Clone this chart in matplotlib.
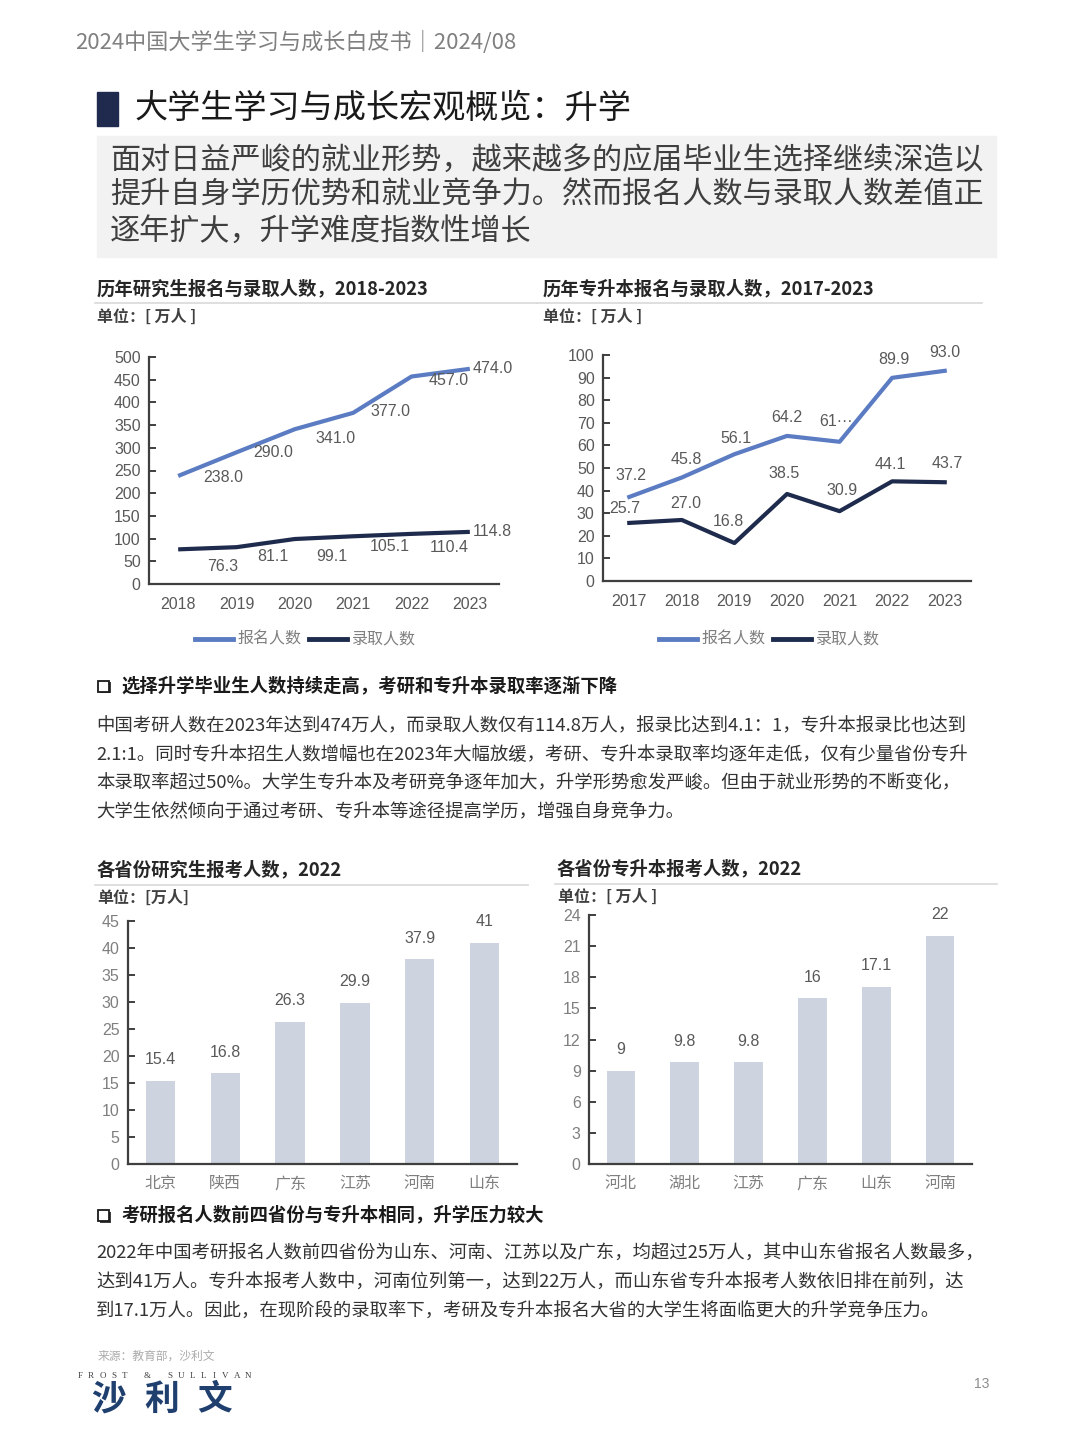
import matplotlib
matplotlib.use("Agg")
import matplotlib.pyplot as plt
from matplotlib.patches import Rectangle
from matplotlib.lines import Line2D

plt.rcParams["font.family"] = ["Noto Sans CJK SC", "DejaVu Sans"]

W, H = 1080, 1439
NUM = ["Liberation Sans", "Noto Sans CJK SC"]
CJK = ["Noto Sans CJK SC", "DejaVu Sans"]

# ---- data ----
grad_years = ["2018", "2019", "2020", "2021", "2022", "2023"]
grad_apply = [238.0, 290.0, 341.0, 377.0, 457.0, 474.0]
grad_admit = [76.3, 81.1, 99.1, 105.1, 110.4, 114.8]

up_years = ["2017", "2018", "2019", "2020", "2021", "2022", "2023"]
up_apply = [37.2, 45.8, 56.1, 64.2, 61.6, 89.9, 93.0]
up_admit = [25.7, 27.0, 16.8, 38.5, 30.9, 44.1, 43.7]
up_apply_text = ["37.2", "45.8", "56.1", "64.2", "61\u00b7\u00b7\u00b7", "89.9", "93.0"]

grad_prov = ["北京", "陕西", "广东", "江苏", "河南", "山东"]
grad_prov_val = [15.4, 16.8, 26.3, 29.9, 37.9, 41]

up_prov = ["河北", "湖北", "江苏", "广东", "山东", "河南"]
up_prov_val = [9, 9.8, 9.8, 16, 17.1, 22]

LIGHT = "#5B7CC2"
DARK = "#1E2B4C"
BAR = "#CDD4DF"
AXC = "#3F3F3F"
TXT = "#595959"

fig = plt.figure(figsize=(W / 100, H / 100), dpi=100)
fig.patch.set_facecolor("white")


def fx(x):
    return x / W


def fy(y):
    return 1 - y / H


def put(x, y, s, size, color="#333333", weight="normal", ha="left", va="center", family=CJK):
    fig.text(fx(x), fy(y), s, fontsize=size, color=color, weight=weight,
             ha=ha, va=va, family=family)


def hline(x0, x1, y, color="#D9D9D9", lw=1.2):
    fig.add_artist(Line2D([fx(x0), fx(x1)], [fy(y), fy(y)], color=color, lw=lw))


def axes_px(left, top, right, bottom):
    return fig.add_axes([fx(left), fy(bottom), (right - left) / W, (bottom - top) / H])


def style_axes(ax, yticks):
    for s in ["top", "right"]:
        ax.spines[s].set_visible(False)
    for s in ["left", "bottom"]:
        ax.spines[s].set_color(AXC)
        ax.spines[s].set_linewidth(1.6)
    ax.set_yticks(yticks)
    ax.tick_params(axis="y", direction="in", length=5, width=1.4, color=AXC,
                   labelsize=11.5, labelcolor=TXT, pad=6)
    ax.tick_params(axis="x", length=0, labelsize=11.5, labelcolor=TXT, pad=9)
    ax.set_facecolor("none")
    for lab in ax.get_yticklabels():
        lab.set_family(NUM)


# ---- header ----
put(75, 42, "2024中国大学生学习与成长白皮书｜2024/08", 15.9, color="#808080", weight="medium")
fig.add_artist(Rectangle((fx(97), fy(126)), 21 / W, 34 / H, color="#1F2A4E",
                         transform=fig.transFigure))
put(135, 108, "大学生学习与成长宏观概览：升学", 23.9, color="#1A1A1A", weight="medium")
fig.add_artist(Rectangle((fx(97), fy(257)), 899 / W, 121 / H, color="#F2F2F2",
                         transform=fig.transFigure, zorder=0))
lead = ["面对日益严峻的就业形势，越来越多的应届毕业生选择继续深造以",
        "提升自身学历优势和就业竞争力。然而报名人数与录取人数差值正",
        "逐年扩大，升学难度指数性增长"]
for i, s in enumerate(lead):
    put(110, 160 + i * 35.5, s, 21.7, color="#3F3F3F", weight="medium")

# ---- chart titles ----
put(97, 289, "历年研究生报名与录取人数，2018-2023", 13.2, color="#262626", weight="bold")
hline(95, 537, 303)
put(97, 317, "单位：[ 万人 ]", 11.5, color="#404040", weight="bold")
put(543, 289, "历年专升本报名与录取人数，2017-2023", 13.2, color="#262626", weight="bold")
hline(537, 982, 303)
put(543, 317, "单位：[ 万人 ]", 11.5, color="#404040", weight="bold")

# ---- chart 1: graduate exam ----
ax1 = axes_px(149, 357, 499, 584)
x1 = range(len(grad_years))
ax1.plot(x1, grad_apply, color=LIGHT, lw=3.0, solid_capstyle="butt")
ax1.plot(x1, grad_admit, color=DARK, lw=3.0, solid_capstyle="butt")
ax1.set_xlim(-0.5, len(grad_years) - 0.5)
ax1.set_ylim(0, 500)
style_axes(ax1, range(0, 501, 50))
ax1.set_xticks(list(x1))
ax1.set_xticklabels(grad_years, family=NUM)
off_apply1 = [(45, -2), (37, 0), (41, -9), (37, 1), (37, -4), (3, 0)]
off_admit1 = [(45, -17), (36, -9), (37, -17), (37, -10), (38, -14), (3, 0)]
for i in x1:
    ha = "left" if i == len(grad_years) - 1 else "center"
    ax1.annotate(f"{grad_apply[i]:.1f}", (i, grad_apply[i]), xytext=off_apply1[i],
                 textcoords="offset pixels", ha=ha, va="center", fontsize=11.5,
                 color=TXT, family=NUM)
    ax1.annotate(f"{grad_admit[i]:.1f}", (i, grad_admit[i]), xytext=off_admit1[i],
                 textcoords="offset pixels", ha=ha, va="center", fontsize=11.5,
                 color=TXT, family=NUM)

# ---- chart 2: zhuanshengben ----
ax2 = axes_px(603, 355, 971, 581)
x2 = range(len(up_years))
ax2.plot(x2, up_apply, color=LIGHT, lw=3.0)
ax2.plot(x2, up_admit, color=DARK, lw=3.0)
ax2.set_xlim(-0.5, len(up_years) - 0.5)
ax2.set_ylim(0, 100)
style_axes(ax2, range(0, 101, 10))
ax2.set_xticks(list(x2))
ax2.set_xticklabels(up_years, family=NUM)
off_apply2 = [(2, 21), (4, 18), (2, 16), (0, 18), (-4, 20), (2, 18), (0, 18)]
off_admit2 = [(-5, 14), (4, 16), (-6, 22), (-3, 20), (2, 21), (-2, 17), (3, 19)]
for i in x2:
    ax2.annotate(up_apply_text[i], (i, up_apply[i]), xytext=off_apply2[i],
                 textcoords="offset pixels", ha="center", va="center", fontsize=11.5,
                 color=TXT, family=NUM)
    ax2.annotate(f"{up_admit[i]:.1f}", (i, up_admit[i]), xytext=off_admit2[i],
                 textcoords="offset pixels", ha="center", va="center", fontsize=11.5,
                 color=TXT, family=NUM)

# legends for line charts
for x0, in [(195,), (659,)]:
    fig.add_artist(Line2D([fx(x0), fx(x0 + 38)], [fy(639)] * 2, color=LIGHT, lw=3.5))
    put(x0 + 42, 639, "报名人数", 11.5, color="#7F7F7F")
    fig.add_artist(Line2D([fx(x0 + 114), fx(x0 + 152)], [fy(639)] * 2, color=DARK, lw=3.5))
    put(x0 + 157, 639, "录取人数", 11.5, color="#7F7F7F")


def bullet(x, y):
    fig.add_artist(Rectangle((fx(x + 1.5), fy(y + 7.5)), 11 / W, 11 / H, fc="#404040",
                             ec="none", transform=fig.transFigure))
    fig.add_artist(Rectangle((fx(x), fy(y + 6)), 11 / W, 11 / H, fc="white",
                             ec="#1A1A1A", lw=1.3, transform=fig.transFigure))


# ---- paragraph 1 ----
bullet(98, 686)
put(121, 686, "选择升学毕业生人数持续走高，考研和专升本录取率逐渐下降", 13.2,
    color="#1A1A1A", weight="bold")
para1 = ["中国考研人数在2023年达到474万人，而录取人数仅有114.8万人，报录比达到4.1：1，专升本报录比也达到",
         "2.1:1。同时专升本招生人数增幅也在2023年大幅放缓，考研、专升本录取率均逐年走低，仅有少量省份专升",
         "本录取率超过50%。大学生专升本及考研竞争逐年加大，升学形势愈发严峻。但由于就业形势的不断变化，",
         "大学生依然倾向于通过考研、专升本等途径提高学历，增强自身竞争力。"]
for i, s in enumerate(para1):
    put(96, 726 + i * 28.7, s, 13.25, color="#333333")

# ---- bar chart titles ----
put(97, 870, "各省份研究生报考人数，2022", 13.2, color="#262626", weight="bold")
hline(95, 528, 885)
put(97, 898, "单位：[万人]", 11.5, color="#404040", weight="bold")
put(557, 869, "各省份专升本报考人数，2022", 13.2, color="#262626", weight="bold")
hline(555, 997, 884)
put(558, 897, "单位：[ 万人 ]", 11.5, color="#404040", weight="bold")


def bar_chart(ax, cats, vals, ymax, step, fmt):
    xs = range(len(cats))
    ax.bar(xs, vals, width=0.45, color=BAR)
    ax.set_xlim(-0.5, len(cats) - 0.5)
    ax.set_ylim(0, ymax)
    style_axes(ax, range(0, ymax + 1, step))
    ax.tick_params(axis="y", labelcolor="#7F7F7F")
    ax.tick_params(axis="x", labelcolor="#7F7F7F", pad=8)
    ax.set_xticks(list(xs))
    ax.set_xticklabels(cats, family=CJK)
    for i in xs:
        ax.annotate(fmt(vals[i]), (i, vals[i]), xytext=(0, 21), textcoords="offset pixels",
                    ha="center", va="center", fontsize=11.5, color=TXT, family=NUM)


ax3 = axes_px(128, 921, 517, 1164)
bar_chart(ax3, grad_prov, grad_prov_val, 45, 5, lambda v: f"{v:g}")
ax4 = axes_px(589, 915, 972, 1164)
bar_chart(ax4, up_prov, up_prov_val, 24, 3, lambda v: f"{v:g}")

# ---- paragraph 2 ----
bullet(98, 1215)
put(121, 1215, "考研报名人数前四省份与专升本相同，升学压力较大", 13.2,
    color="#1A1A1A", weight="bold")
para2 = ["2022年中国考研报名人数前四省份为山东、河南、江苏以及广东，均超过25万人，其中山东省报名人数最多，",
         "达到41万人。专升本报考人数中，河南位列第一，达到22万人，而山东省专升本报考人数依旧排在前列，达",
         "到17.1万人。因此，在现阶段的录取率下，考研及专升本报名大省的大学生将面临更大的升学竞争压力。"]
for i, s in enumerate(para2):
    put(96, 1254 + i * 29, s, 13.2, color="#333333")

# ---- footer ----
put(98, 1356, "来源：教育部，沙利文", 8.5, color="#ABABAB")
brand = "FROST & SULLIVAN"
for i, ch in enumerate(brand):
    put(80 + i * 11.2, 1376, ch, 6.5, color="#404040", ha="center",
        family=["Liberation Serif", "DejaVu Serif"])
for i, ch in enumerate("沙利文"):
    put(109 + i * 53, 1399, ch, 25, color="#1F3F6E", weight="black", ha="center")
put(982, 1384, "13", 10, color="#8C8C8C", ha="center", family=NUM)

fig.savefig("out.png", dpi=100)
